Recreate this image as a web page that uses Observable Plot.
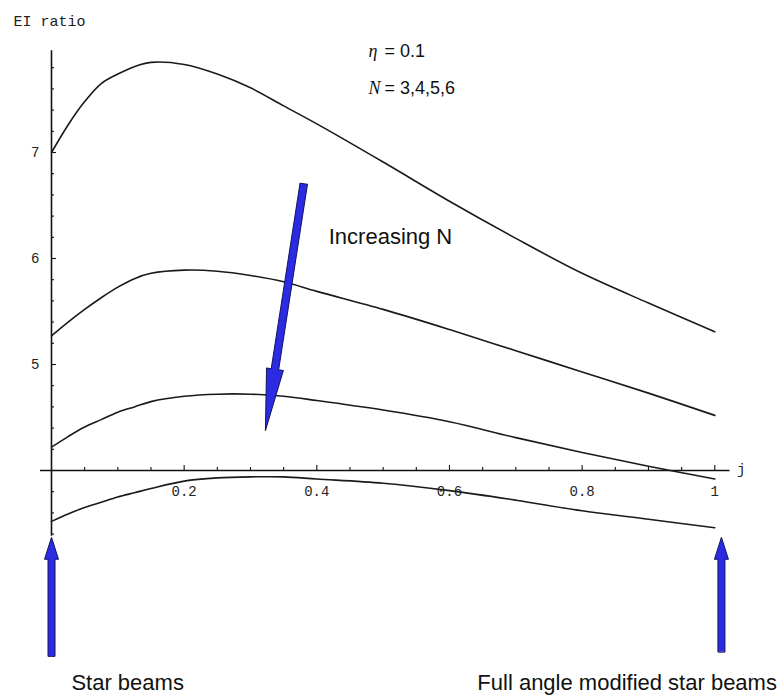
<!DOCTYPE html>
<html><head><meta charset="utf-8">
<script src="https://cdn.jsdelivr.net/npm/d3@7"></script>
<script src="https://cdn.jsdelivr.net/npm/@observablehq/plot@0.6"></script>
<style>html,body{margin:0;padding:0;background:#fff}#chart svg{display:block}</style>
</head><body><div id="chart"></div>
<script>
// ---- data ----
const jGrid = [0, 0.025, 0.05, 0.075, 0.1, 0.125, 0.15, 0.2, 0.25, 0.3, 0.35, 0.4, 0.5, 0.6, 0.7, 0.8, 0.9, 1.0];
const ratioN3 = [7.00, 7.26, 7.48, 7.65, 7.74, 7.81, 7.85, 7.83, 7.74, 7.61, 7.44, 7.27, 6.91, 6.54, 6.19, 5.86, 5.58, 5.31];
const ratioN4 = [5.27, 5.40, 5.52, 5.63, 5.73, 5.81, 5.86, 5.89, 5.88, 5.84, 5.78, 5.69, 5.52, 5.33, 5.13, 4.93, 4.73, 4.52];
const ratioN5 = [4.22, 4.32, 4.41, 4.48, 4.55, 4.60, 4.65, 4.70, 4.72, 4.72, 4.70, 4.66, 4.57, 4.46, 4.31, 4.17, 4.04, 3.92];
const ratioN6 = [3.52, 3.59, 3.65, 3.70, 3.75, 3.79, 3.83, 3.90, 3.93, 3.94, 3.94, 3.92, 3.88, 3.81, 3.72, 3.62, 3.54, 3.46];

const xMajorTicks = [0.2, 0.4, 0.6, 0.8, 1];
const xTickLabels = ["0.2", "0.4", "0.6", "0.8", "1"];
const xMinorTicks = [0.05, 0.1, 0.15, 0.25, 0.3, 0.35, 0.45, 0.5, 0.55, 0.65, 0.7, 0.75, 0.85, 0.9, 0.95];
const yMajorTicks = [5, 6, 7];
const yTickLabels = ["5", "6", "7"];
const yMinorTicks = [3.4, 3.6, 3.8, 4.2, 4.4, 4.6, 4.8, 5.2, 5.4, 5.6, 5.8, 6.2, 6.4, 6.6, 6.8, 7.2, 7.4, 7.6, 7.8];
const xAxisExtent = [-0.0166, 1.023];
const yAxisExtent = [3.38, 7.96];
const axisOrigin = {j: 0, ratio: 4};

const yAxisTitle = "EI ratio";
const xAxisTitle = "j";
const annotations = [
  {text: "Increasing N", j: 0.418, ratio: 6.20},
  {text: "Star beams", j: 0.03, ratio: 2.00},
  {text: "Full angle modified star beams", j: 0.642, ratio: 2.00}
];
const mathLabels = [
  {sym: "η", rest: "= 0.1", j: 0.478, ratio: 7.96},
  {sym: "N", rest: "= 3,4,5,6", j: 0.478, ratio: 7.61}
];
const arrowsData = [
  {j1: 0.3803, r1: 6.705, j2: 0.3225, r2: 4.377, shaft: 7.5, head: 17, headLen: 62},
  {j1: 0.0, r1: 2.25, j2: 0.0, r2: 3.37, shaft: 7, head: 14, headLen: 22},
  {j1: 1.01, r1: 2.29, j2: 1.01, r2: 3.37, shaft: 7, head: 14, headLen: 22}
];

// ---- build ----
const xDomain = [0, 1], xRange = [51, 714.3];
const yDomain = [4, 7], yRange = [470, 152];
const xs = d3.scaleLinear(xDomain, xRange);
const ys = d3.scaleLinear(yDomain, yRange);

const rows = [];
[[3, ratioN3], [4, ratioN4], [5, ratioN5], [6, ratioN6]].forEach(([N, arr]) =>
  jGrid.forEach((j, i) => rows.push({N, j, ratio: arr[i]})));

const tickUp = (px) => ys.invert(ys(4) - px) - 4;
const tickRight = (px) => xs.invert(xs(0) + px) - 0;

function blockArrow(sw, hw, hl) {
  return {
    draw(ctx, l) {
      const b = -(l - hl);
      ctx.moveTo(-sw / 2, 0);
      ctx.lineTo(-sw / 2, b);
      ctx.lineTo(-hw / 2, b);
      ctx.lineTo(0, -l);
      ctx.lineTo(hw / 2, b);
      ctx.lineTo(sw / 2, b);
      ctx.lineTo(sw / 2, 0);
      ctx.closePath();
    }
  };
}
const arrowMarks = arrowsData.map(a => {
  const dx = xs(a.j2) - xs(a.j1), dy = ys(a.r2) - ys(a.r1);
  const len = Math.hypot(dx, dy);
  const rot = Math.atan2(dx, -dy) * 180 / Math.PI;
  return Plot.vector([a], {
    x: "j1", y: "r1", length: len, rotate: rot, anchor: "start",
    shape: blockArrow(a.shaft, a.head, a.headLen),
    fill: "#2b2be3", stroke: "#15155e", strokeWidth: 1
  });
});

const sans = "Liberation Sans, Arial, sans-serif";
const mono = "Liberation Mono, Courier New, monospace";

const chart = Plot.plot({
  width: 780, height: 695, margin: 0,
  style: {background: "#fff", overflow: "visible"},
  x: {domain: xDomain, range: xRange, axis: null},
  y: {domain: yDomain, range: yRange, axis: null},
  marks: [
    Plot.ruleY([axisOrigin.ratio], {x1: xAxisExtent[0], x2: xAxisExtent[1], stroke: "#111", strokeWidth: 1.6}),
    Plot.ruleX([axisOrigin.j], {y1: yAxisExtent[0], y2: yAxisExtent[1], stroke: "#111", strokeWidth: 1.6}),
    Plot.ruleX(xMajorTicks, {x: d => d, y1: 4, y2: 4 + tickUp(5), stroke: "#111", strokeWidth: 1.1}),
    Plot.ruleX(xMinorTicks, {x: d => d, y1: 4, y2: 4 + tickUp(3), stroke: "#111", strokeWidth: 1.1}),
    Plot.ruleY(yMajorTicks, {y: d => d, x1: 0, x2: tickRight(5), stroke: "#111", strokeWidth: 1.1}),
    Plot.ruleY(yMinorTicks, {y: d => d, x1: 0, x2: tickRight(3), stroke: "#111", strokeWidth: 1.1}),
    Plot.text(xMajorTicks, {x: d => d, y: 4, text: (d, i) => xTickLabels[i], dy: 21, fontFamily: mono, fontSize: 14, fill: "#222"}),
    Plot.text(yMajorTicks, {x: 0, y: d => d, text: (d, i) => yTickLabels[i], dx: -12, textAnchor: "end", fontFamily: mono, fontSize: 14, fill: "#222"}),
    Plot.text([yAxisTitle], {x: 0, y: yAxisExtent[1], text: d => d, textAnchor: "start", dx: -38, dy: -30, fontFamily: mono, fontSize: 15, fill: "#222"}),
    Plot.text([xAxisTitle], {x: xAxisExtent[1], y: 4, text: d => d, textAnchor: "start", dx: 7, dy: -1, fontFamily: mono, fontSize: 14, fill: "#222"}),
    Plot.line(rows, {x: "j", y: "ratio", z: "N", stroke: "#1a1a1a", strokeWidth: 1.6, curve: "catmull-rom"}),
    ...arrowMarks,
    Plot.text(annotations, {x: "j", y: "ratio", text: "text", textAnchor: "start", fontFamily: sans, fontSize: 22, fill: "#111"}),
    Plot.text(mathLabels, {x: "j", y: "ratio", text: "sym", textAnchor: "start", fontFamily: "Liberation Serif, serif", fontStyle: "italic", fontSize: 18, fill: "#111"}),
    Plot.text(mathLabels, {x: "j", y: "ratio", text: "rest", textAnchor: "start", dx: 16, fontFamily: sans, fontSize: 18, fill: "#111"})
  ]
});
document.getElementById("chart").appendChild(chart);
</script>
</body></html>
